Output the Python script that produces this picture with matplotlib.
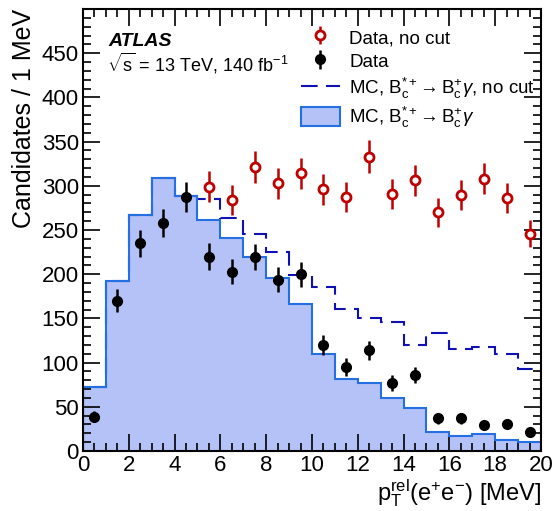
import numpy as np
import matplotlib
matplotlib.use("Agg")
import matplotlib.pyplot as plt
from matplotlib.lines import Line2D
from matplotlib.patches import Patch
from matplotlib.ticker import MultipleLocator

plt.rcParams["font.family"] = ["Liberation Sans", "DejaVu Sans"]
plt.rcParams["mathtext.fontset"] = "custom"
plt.rcParams["mathtext.rm"] = "Liberation Sans"
plt.rcParams["mathtext.it"] = "Liberation Sans:italic"
plt.rcParams["mathtext.bf"] = "Liberation Sans:bold"

# Bin edges in pT^rel [MeV]
bin_edges = np.arange(0, 21, 1)
bin_centers = 0.5 * (bin_edges[:-1] + bin_edges[1:])

# Simulated signal after the selection (filled histogram)
mc_cut = [72, 192, 267, 309, 288, 261, 241, 220, 196, 166,
          110, 82, 77, 60, 49, 21, 17, 19, 12, 10]
# Simulated signal without the selection (dashed histogram)
mc_nocut = [72, 192, 267, 309, 288, 285, 264, 245, 225, 199,
            185, 161, 151, 146, 120, 134, 115, 118, 110, 93]
# Observed candidates after the selection
data_cut = [39, 170, 235, 258, 287, 220, 203, 219, 194, 200,
            120, 95, 114, 77, 86, 37, 37, 29, 31, 22]
# Observed candidates without the selection
data_nocut = [39, 170, 235, 258, 287, 299, 284, 321, 303, 314,
              296, 287, 333, 291, 306, 270, 290, 308, 286, 246]

fill_col = "#b4c2f7"
edge_col = "#2470e2"
dash_col = "#1010b4"
red_col = "#c00000"

fig = plt.figure(figsize=(5.54, 5.11), dpi=100)
ax = fig.add_axes([0.1498, 0.1174, 0.8267, 0.865])

ax.stairs(mc_cut, bin_edges, fill=True, color=fill_col, zorder=1)
ax.stairs(mc_nocut, bin_edges, color=dash_col, lw=1.5,
          linestyle=(0, (8, 4)), zorder=2)
ax.stairs(mc_cut, bin_edges, color=edge_col, lw=1.5, zorder=2.5)

# "No cut" points only shown where they differ from the selected sample
dc = np.array(data_cut, dtype=float)
dn = np.array(data_nocut, dtype=float)
shown = dn != dc
nocut = ax.errorbar(bin_centers[shown], dn[shown], yerr=np.sqrt(dn[shown]),
                    fmt="o", color=red_col, mfc="white", mec=red_col,
                    mew=2, ms=6.5, elinewidth=1.8, capsize=0, zorder=3)
cut = ax.errorbar(bin_centers, dc, yerr=np.sqrt(dc),
                  fmt="o", color="black", ms=7, elinewidth=1.8,
                  capsize=0, zorder=4)

ax.set_xlim(0, 20)
ax.set_ylim(0, 500)
ax.xaxis.set_major_locator(MultipleLocator(2))
ax.xaxis.set_minor_locator(MultipleLocator(0.5))
ax.yaxis.set_major_locator(MultipleLocator(50))
ax.yaxis.set_minor_locator(MultipleLocator(10))
ax.set_yticks(np.arange(0, 451, 50))
ax.tick_params(which="both", direction="in", top=True, right=True,
               labelsize=16, width=1.2, color="black")
ax.tick_params(which="major", length=12, pad=3)
ax.tick_params(which="minor", length=6)
for sp in ax.spines.values():
    sp.set_linewidth(1.5)
    sp.set_zorder(6)

ax.set_ylabel("Candidates / 1 MeV", fontsize=18, loc="top", labelpad=4)
ax.set_xlabel(r"$\mathrm{p_T^{rel}(e^{+}e^{-})}$ [MeV]", fontsize=17,
              loc="right", labelpad=1)

ax.text(0.055, 0.927, "ATLAS", transform=ax.transAxes, fontsize=14,
        fontweight="bold", fontstyle="italic", va="center")
ax.text(0.052, 0.877, r"$\sqrt{\mathrm{s}}$ = 13 TeV, 140 fb$^{-1}$",
        transform=ax.transAxes, fontsize=13, va="center")

handles = [
    nocut,
    cut,
    Line2D([], [], color=dash_col, lw=1.5, linestyle=(0, (8, 4))),
    Patch(facecolor=fill_col, edgecolor=edge_col, lw=1.5),
]
labels = [
    "Data, no cut",
    "Data",
    r"MC, $\mathrm{B_c^{*+}\!\rightarrow B_c^{+}}\gamma$, no cut",
    r"MC, $\mathrm{B_c^{*+}\!\rightarrow B_c^{+}}\gamma$",
]
ax.legend(handles, labels, loc="upper right", bbox_to_anchor=(1.012, 0.985),
          frameon=False, fontsize=13.5, handlelength=2.1, handleheight=1.25,
          labelspacing=0.22, handletextpad=0.5, borderaxespad=0.2)

fig.savefig("out.png", dpi=100)
